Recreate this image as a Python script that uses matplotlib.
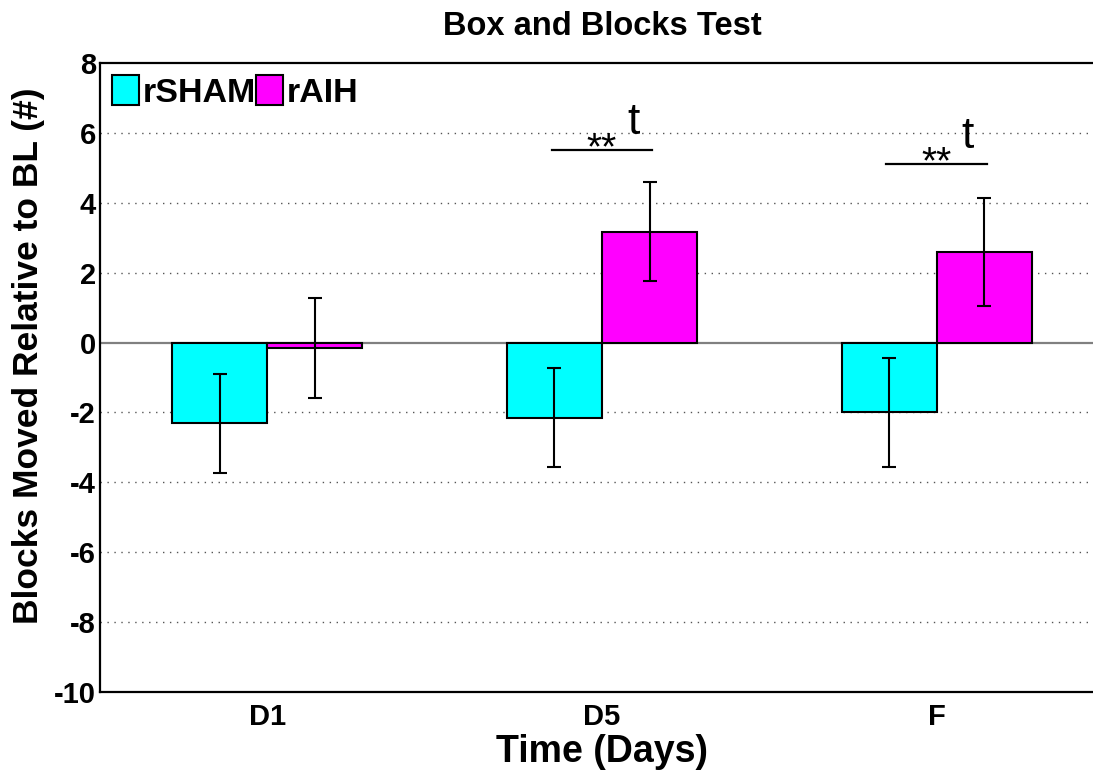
import matplotlib
matplotlib.use("Agg")
import matplotlib.pyplot as plt
import numpy as np

categories = ["D1", "D5", "F"]
sham_mean = [-2.31, -2.15, -1.99]
sham_sem = [1.41, 1.42, 1.56]
aih_mean = [-0.16, 3.17, 2.60]
aih_sem = [1.43, 1.42, 1.55]
yticks = [-10, -8, -6, -4, -2, 0, 2, 4, 6, 8]
sig_y = [5.51, 5.11]

plt.rcParams['font.family'] = ['Liberation Sans', 'DejaVu Sans']
plt.rcParams['axes.unicode_minus'] = False

fig = plt.figure(figsize=(10.93, 7.72), dpi=100)
ax = fig.add_axes([100/1093, 1-692/772, 1004/1093, 629/772])

x = np.arange(1, len(categories)+1)
w = 0.284
cyan = '#00ffff'
mag = '#ff00ff'

for yv in yticks:
    if yv not in (0, -10, 8):
        ax.axhline(yv, color='#555555', linestyle=(0, (1, 4)), linewidth=1.0, zorder=0)
ax.axhline(0, color='#808080', linewidth=1.6, zorder=1)

ax.bar(x - w/2, sham_mean, w, color=cyan, edgecolor='black', linewidth=1.5, label='rSHAM', zorder=2)
ax.bar(x + w/2, aih_mean, w, color=mag, edgecolor='black', linewidth=1.5, label='rAIH', zorder=2)
ax.errorbar(x - w/2, sham_mean, yerr=sham_sem, fmt='none', ecolor='black', elinewidth=1.5, capsize=4.7, capthick=1.5, zorder=3)
ax.errorbar(x + w/2, aih_mean, yerr=aih_sem, fmt='none', ecolor='black', elinewidth=1.5, capsize=4.7, capthick=1.5, zorder=3)

# significance annotations
for xi, yy in zip(x[1:], sig_y):
    ax.plot([xi - 0.15, xi + 0.15], [yy, yy], color='black', linewidth=1.6, zorder=3)
    ax.text(xi, yy - 0.28, '**', ha='center', va='baseline', fontsize=28, zorder=3)
    ax.text(xi + 0.093, yy + 0.46, 't', ha='center', va='baseline', fontsize=32, zorder=3)

ax.set_xlim(0.5, 3.5)
ax.set_ylim(-10, 8)
ax.set_yticks(yticks)
ax.set_xticks(x)
ax.set_xticklabels(categories)
ax.tick_params(length=0, labelsize=21)
ax.tick_params(axis='y', pad=3)
ax.tick_params(axis='x', pad=8)
for lab in ax.get_xticklabels() + ax.get_yticklabels():
    lab.set_fontweight('bold')
for sp in ax.spines.values():
    sp.set_linewidth(1.6)

ax.set_xlabel('Time (Days)', fontsize=27, fontweight='bold', labelpad=2)
ax.set_ylabel('Blocks Moved Relative to BL (#)', fontsize=25.5, fontweight='bold')
ax.yaxis.set_label_coords(-0.055, 0.534)
ax.set_title('Box and Blocks Test', fontsize=23.5, fontweight='bold', pad=20)

leg = ax.legend(loc='upper left', ncol=2, frameon=False, fontsize=24.5,
                handlelength=0.8, handleheight=1.0, handletextpad=0.1,
                columnspacing=0.0, borderaxespad=0.1, borderpad=0.25)
for t in leg.get_texts():
    t.set_fontweight('bold')

fig.savefig('out.png', dpi=100)
